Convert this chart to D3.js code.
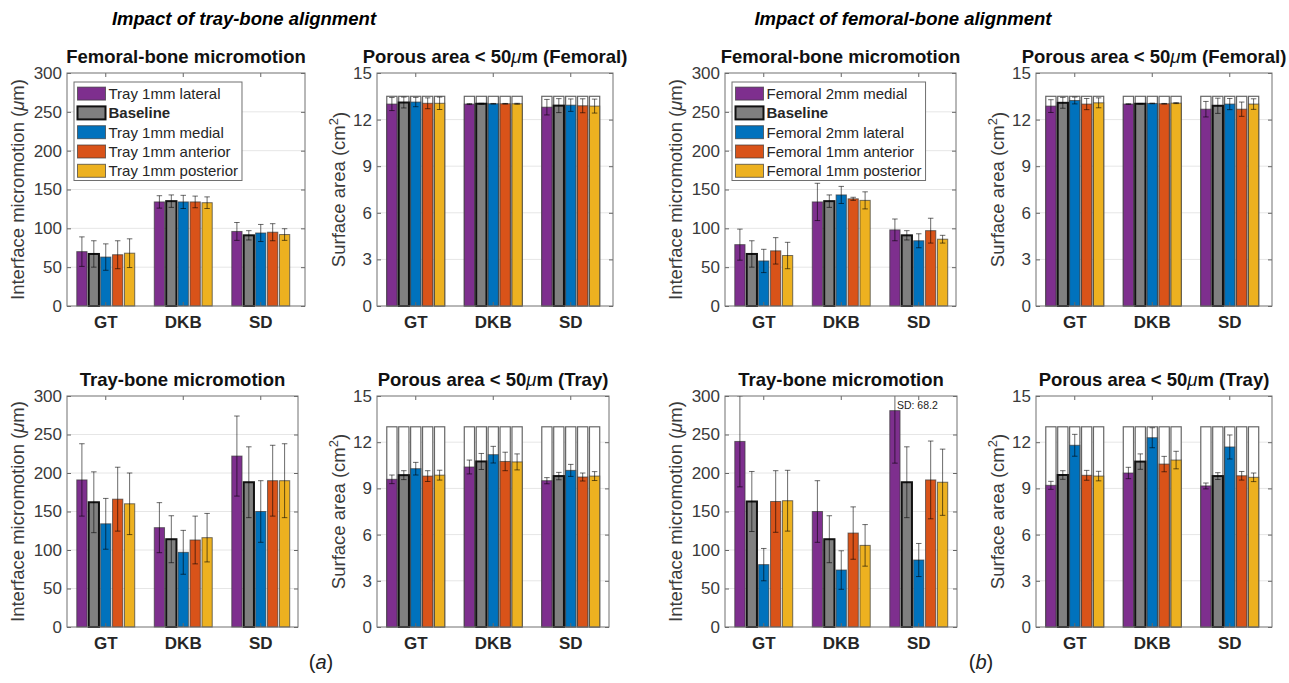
<!DOCTYPE html>
<html>
<head>
<meta charset="utf-8">
<script src="https://cdn.jsdelivr.net/npm/d3@7"></script>
<style>
  body { margin: 0; background: #fff; }
  text { font-family: "Liberation Sans", Arial, Helvetica, sans-serif; }
</style>
</head>
<body>
<script>
// groups on the x axis and the five alignment cases
var categories = ["GT", "DKB", "SD"];
var trayCases = ["Tray 1mm lateral", "Baseline", "Tray 1mm medial", "Tray 1mm anterior", "Tray 1mm posterior"];
var femCases = ["Femoral 2mm medial", "Baseline", "Femoral 2mm lateral", "Femoral 1mm anterior", "Femoral 1mm posterior"];

var microTicks = [0, 50, 100, 150, 200, 250, 300];
var areaTicks = [0, 3, 6, 9, 12, 15];

// total porous area (white bars)
var femTotalArea = 13.5;
var trayTotalArea = 13;

// (a) tray alignment - femoral-bone micromotion, rows = GT, DKB, SD
var aFemMicroMean = [[70, 67, 63, 66, 68], [134, 135, 134, 134, 133], [96, 91, 94, 95, 92]];
var aFemMicroSd = [[19, 17, 17, 18, 18.5], [8, 8, 8.5, 7.5, 7.5], [11.5, 6, 11, 11, 7.5]];
// (a) porous area femoral
var aFemAreaMean = [[13.0, 13.1, 13.13, 13.05, 13.05], [13.0, 13.02, 13.02, 13.02, 13.02], [12.8, 12.9, 12.93, 12.89, 12.87]];
var aFemAreaSd = [[0.42, 0.35, 0.3, 0.35, 0.4], [0.03, 0.03, 0.02, 0.02, 0.03], [0.5, 0.45, 0.4, 0.45, 0.45]];
// (a) tray-bone micromotion
var aTrayMicroMean = [[191, 162, 134, 166, 160], [129, 114, 97, 113, 116], [222, 188, 150, 190, 190]];
var aTrayMicroSd = [[47, 39.5, 33, 41.5, 40], [32.5, 30.5, 28.5, 31, 31.5], [52, 46, 40, 46, 48]];
// (a) porous area tray
var aTrayAreaMean = [[9.59, 9.86, 10.28, 9.8, 9.86], [10.39, 10.75, 11.19, 10.75, 10.72], [9.5, 9.8, 10.17, 9.74, 9.8]];
var aTrayAreaSd = [[0.28, 0.29, 0.41, 0.35, 0.32], [0.45, 0.52, 0.54, 0.6, 0.52], [0.2, 0.24, 0.39, 0.26, 0.29]];

// (b) femoral alignment
var bFemMicroMean = [[79, 67, 58, 71, 65], [134, 135, 143, 138, 136], [98, 91, 84, 97, 86]];
var bFemMicroSd = [[20, 17, 15, 17, 17], [24, 8, 11, 2, 11], [14, 6, 9, 16, 5]];
var bFemAreaMean = [[12.87, 13.08, 13.23, 13.0, 13.08], [13.0, 13.02, 13.04, 13.02, 13.06], [12.67, 12.89, 13.0, 12.67, 13.0]];
var bFemAreaSd = [[0.41, 0.35, 0.22, 0.36, 0.32], [0.02, 0.02, 0.02, 0.02, 0.03], [0.5, 0.49, 0.36, 0.46, 0.34]];
var bTrayMicroMean = [[241, 163, 81, 163, 164], [150, 114, 74, 122, 106], [281, 188, 87, 191, 188]];
var bTrayMicroSd = [[59, 39, 21, 40, 39.5], [40, 30.5, 25, 34, 27], [68.2, 46, 21.5, 50.5, 43]];
var bTrayAreaMean = [[9.2, 9.87, 11.8, 9.85, 9.8], [10.0, 10.74, 12.29, 10.58, 10.84], [9.16, 9.8, 11.69, 9.82, 9.72]];
var bTrayAreaSd = [[0.26, 0.28, 0.71, 0.32, 0.31], [0.37, 0.5, 0.65, 0.5, 0.57], [0.19, 0.22, 0.78, 0.28, 0.28]];

var colors = ["#7E2F8E", "#808080", "#0072BD", "#D95319", "#EDB120"];

var W = 1289, H = 683;
var step = 77.5; // width of one category slot

var svg = d3.select("body").append("svg").attr("width", W).attr("height", H);

// headers
svg.append("text").attr("x", 244).attr("y", 25).attr("text-anchor", "middle")
  .attr("font-size", 18.5).attr("font-weight", "bold").attr("font-style", "italic")
  .text("Impact of tray-bone alignment");
svg.append("text").attr("x", 903).attr("y", 25).attr("text-anchor", "middle")
  .attr("font-size", 18.5).attr("font-weight", "bold").attr("font-style", "italic")
  .text("Impact of femoral-bone alignment");

function panelLabel(x, letter) {
  var t = svg.append("text").attr("x", x).attr("y", 669).attr("text-anchor", "middle").attr("font-size", 20).attr("fill", "#222");
  t.append("tspan").text("(");
  t.append("tspan").attr("font-style", "italic").text(letter);
  t.append("tspan").text(")");
}
panelLabel(321, "a");
panelLabel(981, "b");

var panels = [
  {left: 67, right: 305, top: 73, bottom: 306, kind: "micro", title: "Femoral-bone micromotion",
   mean: aFemMicroMean, sd: aFemMicroSd, legend: trayCases},
  {left: 377, right: 613, top: 73, bottom: 306, kind: "area", title: "Femoral",
   mean: aFemAreaMean, sd: aFemAreaSd, total: femTotalArea},
  {left: 67, right: 298, top: 396, bottom: 627, kind: "micro", title: "Tray-bone micromotion",
   mean: aTrayMicroMean, sd: aTrayMicroSd},
  {left: 377, right: 609, top: 396, bottom: 627, kind: "area", title: "Tray",
   mean: aTrayAreaMean, sd: aTrayAreaSd, total: trayTotalArea},
  {left: 725, right: 956, top: 73, bottom: 306, kind: "micro", title: "Femoral-bone micromotion",
   mean: bFemMicroMean, sd: bFemMicroSd, legend: femCases},
  {left: 1036, right: 1272, top: 73, bottom: 306, kind: "area", title: "Femoral",
   mean: bFemAreaMean, sd: bFemAreaSd, total: femTotalArea},
  {left: 725, right: 957, top: 396, bottom: 627, kind: "micro", title: "Tray-bone micromotion",
   mean: bTrayMicroMean, sd: bTrayMicroSd, note: true},
  {left: 1036, right: 1272, top: 396, bottom: 627, kind: "area", title: "Tray",
   mean: bTrayAreaMean, sd: bTrayAreaSd, total: trayTotalArea}
];

panels.forEach(function(p, pi) { drawPanel(p, pi); });

function drawPanel(p, pi) {
  var ticks = p.kind === "micro" ? microTicks : areaTicks;
  var yMax = ticks[ticks.length - 1];
  var y = d3.scaleLinear().domain([0, yMax]).range([p.bottom, p.top]);
  var x = d3.scaleBand().domain(categories).range([p.left, p.left + step * 3]).padding(0);
  var groupW = step * 5 / 6.5;
  var xi = d3.scaleBand().domain(d3.range(5)).range([-groupW / 2, groupW / 2])
    .paddingInner(0.14).paddingOuter(0.07);

  var g = svg.append("g");

  // grid
  g.append("g").selectAll("line").data(ticks.slice(1, -1)).enter().append("line")
    .attr("x1", p.left).attr("x2", p.right)
    .attr("y1", function(d) { return y(d); }).attr("y2", function(d) { return y(d); })
    .attr("stroke", "#e6e6e6").attr("stroke-width", 1);

  var clipId = "clip" + pi;
  svg.append("clipPath").attr("id", clipId).append("rect")
    .attr("x", p.left).attr("y", p.top).attr("width", p.right - p.left).attr("height", p.bottom - p.top + 3);

  var plot = g.append("g").attr("clip-path", "url(#" + clipId + ")");

  var rows = [];
  categories.forEach(function(c, ci) {
    for (var k = 0; k < 5; k++) rows.push({cat: c, k: k, m: p.mean[ci][k], s: p.sd[ci][k]});
  });

  function bx(d) { return x(d.cat) + x.bandwidth() / 2 + xi(d.k); }

  if (p.total) {
    plot.selectAll(".tot").data(rows).enter().append("rect")
      .attr("x", bx).attr("width", xi.bandwidth())
      .attr("y", y(p.total)).attr("height", y(0) - y(p.total))
      .attr("fill", "#fff").attr("stroke", "#666").attr("stroke-width", 1.2);
  }

  plot.selectAll(".bar").data(rows).enter().append("rect")
    .attr("x", bx).attr("width", xi.bandwidth())
    .attr("y", function(d) { return y(d.m); })
    .attr("height", function(d) { return y(0) - y(d.m); })
    .attr("fill", function(d) { return colors[d.k]; })
    .attr("stroke", function(d) { return d.k === 1 ? "#111" : "#3a3a3a"; })
    .attr("stroke-opacity", function(d) { return d.k === 1 ? 1 : 0.7; })
    .attr("stroke-width", function(d) { return d.k === 1 ? 2 : 1; });

  // error bars
  var capW = 5.5;
  var eb = plot.selectAll(".eb").data(rows).enter().append("g")
    .attr("stroke", "#000").attr("stroke-opacity", 0.58).attr("stroke-width", 1);
  eb.append("line")
    .attr("x1", function(d) { return bx(d) + xi.bandwidth() / 2; })
    .attr("x2", function(d) { return bx(d) + xi.bandwidth() / 2; })
    .attr("y1", function(d) { return y(d.m - d.s); })
    .attr("y2", function(d) { return y(d.m + d.s); });
  [-1, 1].forEach(function(sg) {
    eb.append("line")
      .attr("x1", function(d) { return bx(d) + xi.bandwidth() / 2 - capW / 2; })
      .attr("x2", function(d) { return bx(d) + xi.bandwidth() / 2 + capW / 2; })
      .attr("y1", function(d) { return y(d.m + sg * d.s); })
      .attr("y2", function(d) { return y(d.m + sg * d.s); });
  });

  // axes, ticks pointing inward like matlab
  var axL = g.append("g").attr("transform", "translate(" + p.left + ",0)")
    .call(d3.axisLeft(y).tickValues(ticks).tickSizeInner(-4).tickSizeOuter(0).tickPadding(5));
  var axR = g.append("g").attr("transform", "translate(" + p.right + ",0)")
    .call(d3.axisRight(y).tickValues(ticks).tickSizeInner(-4).tickSizeOuter(0).tickFormat(""));
  var axB = g.append("g").attr("transform", "translate(0," + p.bottom + ")")
    .call(d3.axisBottom(x).tickSizeInner(-4).tickSizeOuter(0).tickPadding(10));
  var axT = g.append("g").attr("transform", "translate(0," + p.top + ")")
    .call(d3.axisTop(x).tickSizeInner(-4).tickSizeOuter(0).tickFormat(""));
  [axL, axR, axB, axT].forEach(function(a) {
    a.select(".domain").remove();
    a.selectAll(".tick line").attr("stroke", "#666");
  });
  axL.selectAll("text").attr("font-size", 17).attr("fill", "#3a3a3a")
    .attr("font-family", "'Liberation Sans', Arial, sans-serif");
  axB.selectAll("text").attr("font-size", 17).attr("font-weight", "bold").attr("fill", "#262626")
    .attr("font-family", "'Liberation Sans', Arial, sans-serif");

  g.append("rect").attr("x", p.left).attr("y", p.top)
    .attr("width", p.right - p.left).attr("height", p.bottom - p.top)
    .attr("fill", "none").attr("stroke", "#707070").attr("stroke-width", 1);

  // title
  var tt = g.append("text").attr("x", (p.left + p.right) / 2).attr("y", p.top - 10)
    .attr("text-anchor", "middle").attr("font-size", 18.5).attr("font-weight", "bold").attr("fill", "#111");
  if (p.kind === "micro") {
    tt.text(p.title);
  } else {
    tt.append("tspan").text("Porous area < 50");
    tt.append("tspan").attr("font-style", "italic").attr("font-weight", "normal").text("\u03bc");
    tt.append("tspan").text("m (" + p.title + ")");
  }

  // y label
  var lx = p.kind === "micro" ? p.left - 49 : p.left - 38;
  var ly = (p.top + p.bottom) / 2;
  var yl = g.append("text").attr("transform", "translate(" + lx + "," + ly + ") rotate(-90)")
    .attr("text-anchor", "middle").attr("dy", "0.35em").attr("font-size", 18.5).attr("fill", "#3a3a3a");
  if (p.kind === "micro") {
    yl.append("tspan").text("Interface micromotion (");
    yl.append("tspan").attr("font-style", "italic").text("\u03bc");
    yl.append("tspan").text("m)");
  } else {
    yl.append("tspan").text("Surface area (cm");
    yl.append("tspan").attr("font-size", 13).attr("dy", "-0.6em").text("2");
    yl.append("tspan").attr("dy", "0.45em").text(")");
  }

  if (p.note) {
    var last = rows[10];
    g.append("text").attr("x", bx(last) + xi.bandwidth() / 2 + 2).attr("y", y(yMax) + 13)
      .attr("font-size", 10.5).attr("fill", "#222").attr("font-family", "'DejaVu Sans', sans-serif")
      .text("SD: " + last.s);
  }

  if (p.legend) drawLegend(g, p);
}

function drawLegend(g, p) {
  var lg = g.append("g");
  var x0 = p.left + 7, y0 = p.top + 9, rowH = 19.3;
  var box = lg.append("rect").attr("x", x0).attr("y", y0).attr("height", 98.5)
    .attr("fill", "#fff").attr("stroke", "#707070").attr("stroke-width", 1);
  var maxW = 0;
  p.legend.forEach(function(name, k) {
    var cy = y0 + 11.6 + k * rowH;
    lg.append("rect").attr("x", x0 + 3.5).attr("y", cy - 6.5).attr("width", 28).attr("height", 13)
      .attr("fill", colors[k])
      .attr("stroke", k === 1 ? "#111" : "#3a3a3a").attr("stroke-opacity", k === 1 ? 1 : 0.7)
      .attr("stroke-width", k === 1 ? 2 : 1);
    var t = lg.append("text").attr("x", x0 + 34.5).attr("y", cy).attr("dy", "0.36em")
      .attr("font-size", 15).attr("fill", "#262626")
      .attr("font-weight", k === 1 ? "bold" : "normal").text(name);
    maxW = Math.max(maxW, t.node().getComputedTextLength());
  });
  box.attr("width", 34.5 + maxW + 4);
}
</script>
</body>
</html>
